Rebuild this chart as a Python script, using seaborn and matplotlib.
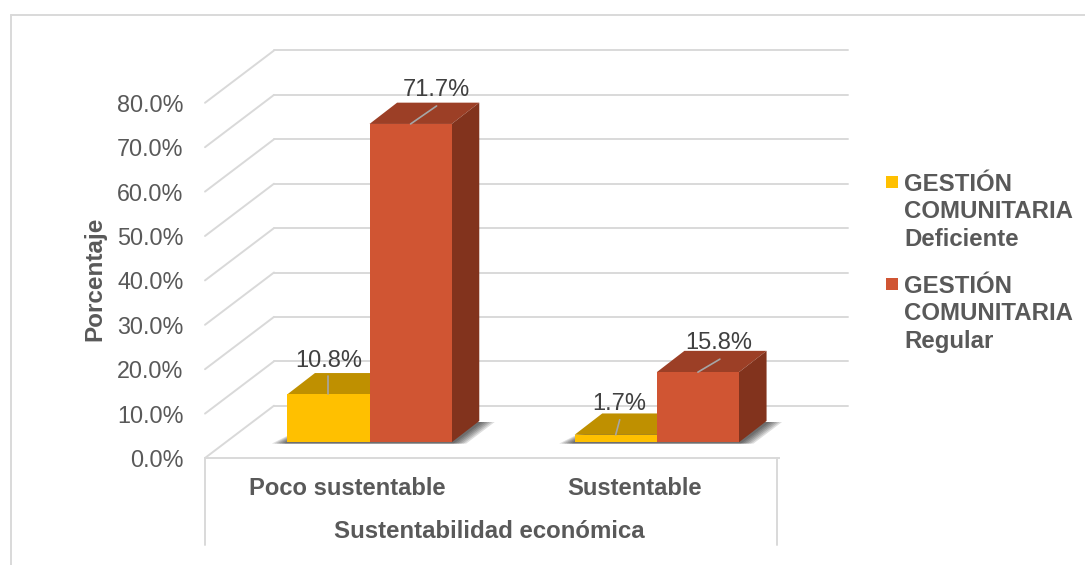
import seaborn as sns
import matplotlib.pyplot as plt
import pandas as pd
from matplotlib.lines import Line2D
from matplotlib.patches import Polygon, Rectangle
from matplotlib.legend_handler import HandlerPatch
from matplotlib.transforms import Affine2D

# Data
categories = ['Poco sustentable', 'Sustentable']
series_names = ['GESTIÓN\nCOMUNITARIA\nDeficiente', 'GESTIÓN\nCOMUNITARIA\nRegular']
deficiente = [10.8, 1.7]
regular = [71.7, 15.8]
y_ticks = [0, 10, 20, 30, 40, 50, 60, 70, 80]

# Colours: front, top, side
front_colors = ['#FFC000', '#D05533']
top_colors = ['#BF9000', '#9C3F26']
side_colors = ['#BF9000', '#82331D']
grid_color = '#D9D9D9'

# Build the table
df = pd.DataFrame({
    'categoria': categories * 2,
    'serie': [series_names[0]] * 2 + [series_names[1]] * 2,
    'valor': deficiente + regular,
})

sns.set_theme(style='white')
plt.rcParams['font.family'] = ['Liberation Sans', 'DejaVu Sans']

W, H = 1085, 565
fig = plt.figure(figsize=(W / 100, H / 100), dpi=100)

# Layout in pixels, the axes is the front edge of the 3D box
PX_X = 287.3  # pixels per category
PX_Y = 4.44   # pixels per percent
LEFT, BOTTOM, WIDTH = 205, 458, 572
ax = fig.add_axes([LEFT / W, (H - BOTTOM) / H, WIDTH / W, 80 * PX_Y / H])

sns.barplot(data=df, x='categoria', y='valor', hue='serie', hue_order=series_names,
            palette=front_colors, saturation=1, width=0.572, gap=0, ax=ax, zorder=4)

x_left = -142 / PX_X
ax.set_xlim(x_left, x_left + WIDTH / PX_X)
ax.set_ylim(0, 80)


def dx(px):
    return px / PX_X


def dy(px):
    return px / PX_Y


# Back wall and left wall grid lines
WALL_X, WALL_Y = 69, 52.3
x_right = x_left + dx(WIDTH + 2)
for v in y_ticks:
    ax.plot([x_left + dx(WALL_X), x_right + dx(WALL_X)], [v + dy(WALL_Y)] * 2,
            color=grid_color, lw=1.4, clip_on=False, zorder=1)
    ax.plot([x_left, x_left + dx(WALL_X)], [v, v + dy(WALL_Y)],
            color=grid_color, lw=1.4, clip_on=False, zorder=1)

# Axis box under the floor
for xa in [0, 1]:
    ax.plot([xa, xa], [0, -87 / (80 * PX_Y)], transform=ax.transAxes,
            color=grid_color, lw=1.4, clip_on=False, zorder=1)

# Bars sit further back than the front edge
SHIFT_X, SHIFT_Y = 22.5, 15.7
DEPTH_X, DEPTH_Y = 27.6, 21.3
shifted = ax.transData + Affine2D().translate(SHIFT_X, SHIFT_Y)

for i, container in enumerate(ax.containers):
    for bar in container:
        bar.set_transform(shifted)
        bar.set_clip_on(False)
        bar.set_edgecolor('none')
        x0, x1 = bar.get_x(), bar.get_x() + bar.get_width()
        h = bar.get_height()
        top = [(x0, h), (x1, h), (x1 + dx(DEPTH_X), h + dy(DEPTH_Y)), (x0 + dx(DEPTH_X), h + dy(DEPTH_Y))]
        side = [(x1, 0), (x1 + dx(DEPTH_X), dy(DEPTH_Y)), (x1 + dx(DEPTH_X), h + dy(DEPTH_Y)), (x1, h)]
        ax.add_patch(Polygon(top, closed=True, fc=top_colors[i], ec='none', transform=shifted,
                             clip_on=False, zorder=3 + i * 2))
        ax.add_patch(Polygon(side, closed=True, fc=side_colors[i], ec='none', transform=shifted,
                             clip_on=False, zorder=3 + i * 2))
        bar.set_zorder(3.5 + i * 2)

# Soft shadow on the floor
for cat in range(len(categories)):
    bars = [c[cat] for c in ax.containers]
    x0 = bars[0].get_x()
    x1 = bars[1].get_x() + bars[1].get_width()
    for k in range(6):
        grow = k * 2.5
        shadow = [(x0 - dx(3 + grow), dy(-1.3)), (x1 + dx(2 + grow), dy(-1.3)),
                  (x1 + dx(DEPTH_X + 3 + grow), dy(DEPTH_Y - 1)), (x0 + dx(DEPTH_X), dy(DEPTH_Y - 1))]
        ax.add_patch(Polygon(shadow, closed=True, fc='black', ec='none', alpha=0.13,
                             transform=shifted, clip_on=False, zorder=2))

# Data labels with their leader lines, offsets in pixels from the bar top
label_offsets = [[(0, 18, 0, 33.5), (4, 15, 4, 31)], [(26, 18, 25.5, 34), (22, 13, 21, 29)]]
for i, container in enumerate(ax.containers):
    for j, bar in enumerate(container):
        cx = bar.get_x() + bar.get_width() / 2
        h = bar.get_height()
        lx, ly, tx, ty = label_offsets[i][j]
        ax.plot([cx, cx + dx(lx)], [h, h + dy(ly)], color='#A6A6A6', lw=1.2,
                transform=shifted, clip_on=False, zorder=8)
        ax.text(cx + dx(tx), h + dy(ty), f'{h:.1f}%', transform=shifted, ha='center', va='center',
                fontsize=17, color='#404040', zorder=9, clip_on=False)

# Axes text
ax.set_yticks(y_ticks)
ax.set_yticklabels([f'{v:.1f}%' for v in y_ticks])
ax.tick_params(axis='y', length=0, pad=15.5, labelsize=16.8, labelcolor='#595959')
ax.tick_params(axis='x', length=0, pad=14, labelsize=17.15)
for lab in ax.get_xticklabels():
    lab.set_fontweight('bold')
    lab.set_color('#595959')
ax.set_xlabel('Sustentabilidad económica', fontsize=17.3, fontweight='bold', color='#595959')
ax.xaxis.set_label_coords(0.497, -74 / (80 * PX_Y), transform=ax.transAxes)
ax.xaxis.label.set_va('center')
ax.set_ylabel('Porcentaje', fontsize=17.5, fontweight='bold', color='#595959')
ax.yaxis.set_label_coords((95 - LEFT) / WIDTH, (BOTTOM - 279) / (80 * PX_Y), transform=ax.transAxes)
ax.yaxis.label.set_va('center')

sns.despine(ax=ax, left=True, right=True, top=True, bottom=False)
ax.spines['bottom'].set_color(grid_color)
ax.spines['bottom'].set_linewidth(1.4)
ax.spines['bottom'].set_bounds(x_left, x_right)


# Legend marker goes next to the first text line
def first_line_patch(legend, orig_handle, xdescent, ydescent, width, height, fontsize):
    return Rectangle((width - 8.6, 23.7), 8.6, 8.6)


handles, labels = ax.get_legend_handles_labels()
for handle in handles:
    handle.set_edgecolor('none')
leg = ax.legend(handles, labels, frameon=False, loc='upper left',
                bbox_to_anchor=(880 / W, (H - 173) / H), bbox_transform=fig.transFigure,
                handler_map={h: HandlerPatch(patch_func=first_line_patch) for h in handles},
                borderpad=0, borderaxespad=0, handlelength=0.75, handletextpad=0.25,
                labelspacing=1.0, fontsize=17.3)
for t in leg.get_texts():
    t.set_fontweight('bold')
    t.set_color('#595959')
    t.set_linespacing(1.245)

# Outer chart frame
fig.add_artist(Line2D([11 / W, 11 / W], [0, (H - 15) / H], color=grid_color, lw=1.4))
fig.add_artist(Line2D([11 / W, 1], [(H - 15) / H, (H - 15) / H], color=grid_color, lw=1.4))

plt.savefig('out.png', dpi=100)
